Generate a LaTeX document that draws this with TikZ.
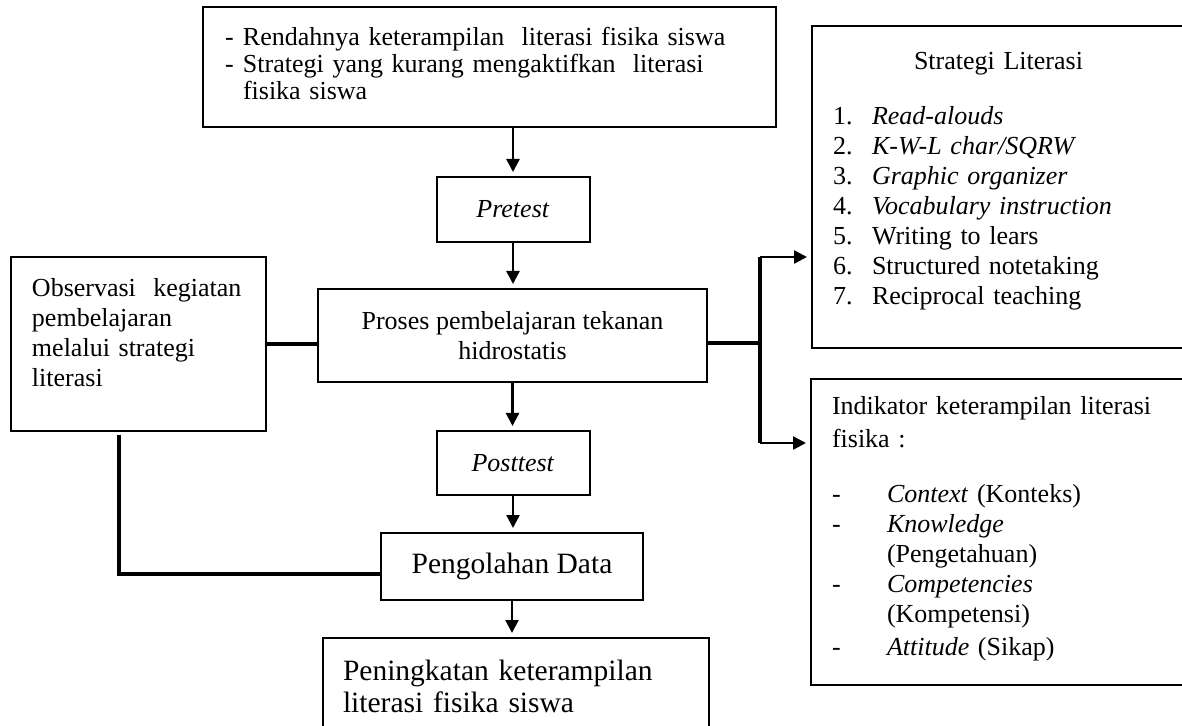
\documentclass[tikz,border=0pt]{standalone}
\usepackage{fontspec}
\setmainfont{Liberation Serif}
\usetikzlibrary{arrows.meta}

\begin{document}
\begin{tikzpicture}
            [x=0.5pt, y=-0.5pt, >={Triangle[length=6.5pt,width=6.5pt]},
             kotak/.style={draw=black, line width=1pt, inner sep=0pt, font=\fontsize{13pt}{15pt}\selectfont},
             besar/.style={font=\fontsize{14.75pt}{16pt}\selectfont},
             panah/.style={->, line width=1.2pt, shorten >=2pt},
             tebal/.style={line width=2pt}]
            \useasboundingbox (0, 0) rectangle (1182, 726);

            \node[kotak, minimum width=286.5pt, minimum height=60pt, text width=264.5pt, align=left, font=\fontsize{13pt}{13.5pt}\selectfont] (masalah) at (489.5, 67)
                {\makebox[9pt][l]{-}Rendahnya keterampilan\ \ literasi fisika siswa\\
                 \makebox[9pt][l]{-}Strategi yang kurang mengaktifkan\ \ literasi\\
                 \hspace*{9pt}fisika siswa\rule[-4pt]{0pt}{4pt}};
            \node[kotak, minimum width=76.5pt, minimum height=32.5pt] (pretest) at (513, 209.5) {\textit{Pretest}};
            \node[kotak, minimum width=194.5pt, minimum height=46.5pt, align=center] (proses) at (512.5, 335.5)
                {Proses pembelajaran tekanan\\ hidrostatis};
            \node[kotak, minimum width=127.5pt, minimum height=87pt, text width=106.5pt, align=left] (observasi) at (138.5, 344)
                {\mbox{Observasi\ \ kegiatan}\\ pembelajaran\\ melalui strategi\\ literasi\rule[-12pt]{0pt}{12pt}};
            \node[kotak, minimum width=76.5pt, minimum height=32pt] (posttest) at (513, 463) {\textit{Posttest}};
            \node[kotak, besar, minimum width=131pt, minimum height=33.5pt] (pengolahan) at (512, 566.5) {Pengolahan Data};
            \node[kotak, besar, minimum width=193pt, minimum height=48pt, text width=173pt, align=left] (peningkatan) at (516, 686)
                {Peningkatan keterampilan\\ literasi fisika siswa};
            \node[kotak, minimum width=186.5pt, minimum height=161pt, text width=165.5pt, align=left] (strategi) at (998.5, 187)
                {\centerline{Strategi Literasi}\vspace{12.5pt}
                 \makebox[19.5pt][l]{1.}\textit{Read-alouds}\\
                 \makebox[19.5pt][l]{2.}\textit{K-W-L char/SQRW}\\
                 \makebox[19.5pt][l]{3.}\textit{Graphic organizer}\\
                 \makebox[19.5pt][l]{4.}\textit{Vocabulary instruction}\\
                 \makebox[19.5pt][l]{5.}Writing to lears\\
                 \makebox[19.5pt][l]{6.}Structured notetaking\\
                 \makebox[19.5pt][l]{7.}Reciprocal teaching\rule[-9pt]{0pt}{9pt}};
            \node[kotak, minimum width=187pt, minimum height=153pt, text width=166pt, align=left] (indikator) at (998, 532)
                {\mbox{Indikator keterampilan literasi}\\[1.5pt]
                 fisika :\\[12.5pt]
                 \makebox[27.5pt][l]{-}\textit{Context} (Konteks)\\
                 \makebox[27.5pt][l]{-}\textit{Knowledge}\\
                 \hspace*{27.5pt}(Pengetahuan)\\
                 \makebox[27.5pt][l]{-}\textit{Competencies}\\
                 \hspace*{27.5pt}(Kompetensi)\\[1.5pt]
                 \makebox[27.5pt][l]{-}\textit{Attitude} (Sikap)\rule[-6pt]{0pt}{6pt}};

            \coordinate (cabang) at (760, 343);
            \coordinate (cabangatas) at (760, 257);
            \coordinate (cabangbawah) at (760, 443);

            \path [panah] (masalah.south -| pretest.north) edge (pretest.north);
            \path [panah] (pretest.south) edge (pretest.south |- proses.north);
            \path [panah] (proses.south) edge (proses.south |- posttest.north);
            \path [panah] (posttest.south) edge (posttest.south |- pengolahan.north);
            \path [panah] (pengolahan.south) edge (pengolahan.south |- peningkatan.north);

            \draw [tebal] (observasi.east) -- (observasi.east -| proses.west);
            \draw [tebal] ([xshift=-9.75pt, yshift=-1.5pt]observasi.south) |- ([yshift=-3.75pt]pengolahan.west);

            \draw [tebal] (proses.east |- cabang) -- (cabang);
            \draw [tebal] (cabangatas) -- (cabangbawah);
            \path [panah] (cabangatas) edge (cabangatas -| strategi.west);
            \path [panah] (cabangbawah) edge (cabangbawah -| indikator.west);
        \end{tikzpicture}
\end{document}
